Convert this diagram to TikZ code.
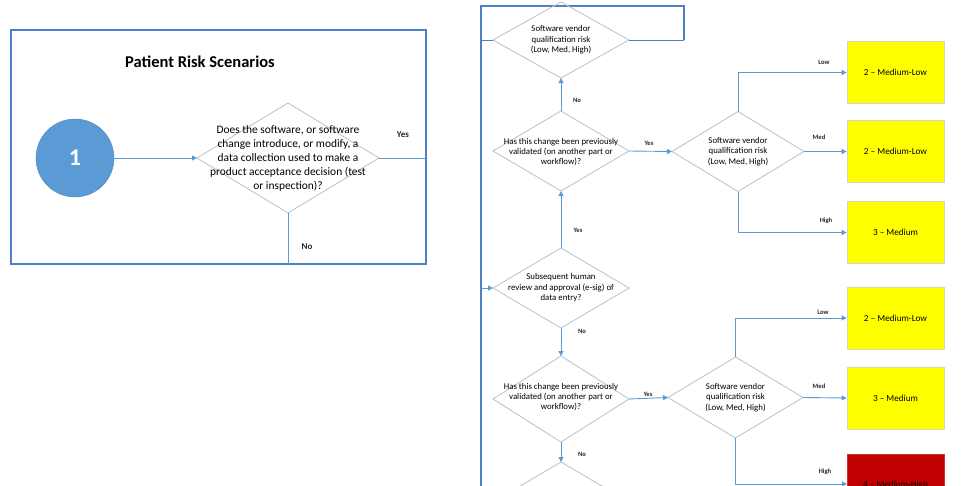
\documentclass[tikz,border=0pt]{standalone}
\usepackage{fontspec}
\setmainfont{Carlito}
\usetikzlibrary{shapes.geometric,arrows.meta}
\definecolor{frameblue}{HTML}{4F7FC8}
\definecolor{lineblue}{HTML}{5B9BD5}
\definecolor{dgray}{HTML}{C4C4C4}
\definecolor{ybox}{HTML}{FFFF00}
\definecolor{ybord}{HTML}{D8D8B0}
\definecolor{rbox}{HTML}{C00000}
\tikzset{
  frame/.style={draw=frameblue, line width=1.5pt},
  dia/.style={shape=diamond, draw=dgray, line width=0.9pt, inner sep=0pt, outer sep=0pt},
  smalldia/.style={dia, minimum width=136pt, minimum height=80pt},
  dtext/.style={align=center, font=\fontsize{8.8}{10.4}\selectfont, inner sep=0pt},
  conn/.style={draw=lineblue, line width=0.9pt},
  arr/.style={conn, -{Triangle[width=5pt,length=5pt]}},
  lbl/.style={font=\fontsize{6.6}{7}\selectfont\bfseries, inner sep=0pt, text=black!85},
  resbox/.style={draw=ybord, fill=ybox, line width=0.8pt, minimum width=97pt, minimum height=62pt, inner sep=0pt, font=\fontsize{9.2}{10}\selectfont},
}
\begin{document}
\begin{tikzpicture}[x=1pt,y=-1pt]
\useasboundingbox (0,0) rectangle (967,485);
\clip (0,0) rectangle (967,485);
% ---------- left panel ----------
\node[frame, draw, minimum width=415pt, minimum height=234pt, inner sep=0pt] (panel) at (218.5,147) {};
\node[font=\fontsize{16.5}{18}\selectfont\bfseries] (title) at (200,62) {Patient Risk Scenarios};
\node[circle, fill=lineblue, draw=lineblue!85!black, line width=0.4pt, minimum size=78pt, inner sep=0pt, text=white, font=\fontsize{24}{26}\selectfont\bfseries] (c1) at (75,158) {1};
\node[dia, minimum width=182pt, minimum height=110pt] (q1) at (288,158) {};
\node[align=center, font=\fontsize{11.4}{14}\selectfont, inner sep=0pt] (q1t) at (288,158.5) {Does the software, or software\\change introduce, or modify, a\\data collection used to make a\\product acceptance decision (test\\or inspection)?};
\coordinate (q1yes) at (426,158);
\coordinate (q1no) at (288,264);
\draw[arr] (c1.east) -- (q1.west);
\draw[conn] (q1.east) -- (q1yes);
\draw[conn] (q1.south) -- (q1no);
\node[font=\fontsize{9}{10}\selectfont\bfseries, text=black!85, inner sep=0pt] (l1yes) at (403,135) {Yes};
\node[font=\fontsize{9}{10}\selectfont\bfseries, text=black!85, inner sep=0pt] (l1no) at (307,247) {No};
% ---------- right panel frame ----------
\coordinate (fTL) at (481,6);
\coordinate (fTR) at (684,6);
\coordinate (fMR) at (684,40);
\coordinate (fML) at (481,40);
\coordinate (fBL) at (481,490);
\draw[frame] (fBL) -- (fTL) -- (fTR) -- (fMR);
% ---------- right panel diamonds ----------
\node[smalldia, minimum height=76pt] (v0) at (561,40) {};
\node[dtext] (v0t) at (561,40) {Software vendor\\qualification risk\\(Low, Med, High)};
\draw[conn, draw=frameblue] (fML) -- (v0.west);
\draw[conn, draw=frameblue] (v0.east) -- (fMR);

\node[smalldia] (q2) at (561,151) {};
\node[dtext] (q2t) at (561,152) {Has this change been previously\\validated (on another part or\\workflow)?};

\node[smalldia] (q3) at (561,288) {};
\node[dtext] (q3t) at (561,288) {Subsequent human\\review and approval (e-sig) of\\data entry?};

\node[smalldia, minimum height=86pt] (q4) at (561,399) {};
\node[dtext] (q4t) at (561,397) {Has this change been previously\\validated (on another part or\\workflow)?};

\node[smalldia] (q5) at (561,502) {};

\node[smalldia, minimum width=132pt] (v1) at (738,151.5) {};
\node[dtext] (v1t) at (738,151.5) {Software vendor\\qualification risk\\(Low, Med, High)};

\node[smalldia, minimum width=135pt, minimum height=81pt] (v2) at (735.5,397.5) {};
\node[dtext] (v2t) at (735.5,397.5) {Software vendor\\qualification risk\\(Low, Med, High)};

% ---------- result boxes ----------
\node[resbox] (b1) at (895.5,72.5) {2 -- Medium-Low};
\node[resbox] (b2) at (895.5,151.5) {2 -- Medium-Low};
\node[resbox] (b3) at (895.5,232.5) {3 -- Medium};
\node[resbox] (b4) at (895.5,318) {2 -- Medium-Low};
\node[resbox] (b5) at (895.5,398) {3 -- Medium};
\node[resbox, fill=rbox, draw=rbox!80!white] (b6) at (895.5,485) {4 -- Medium-High};

% ---------- connectors ----------
\coordinate (entry) at (481,288);
\draw[arr] (entry) -- (q3.west);
\draw[arr] (q2.north) -- (v0.south);
\draw[arr] (q3.north) -- (q2.south);
\draw[arr] (q3.south) -- (q4.north);
\draw[arr] (q4.south) -- (q5.north);
\draw[arr] (q2.east) -- (v1.west);
\draw[arr] (q4.east) -- (v2.west);
\draw[arr] (v1.north) |- (b1.west);
\draw[arr] (v1.east) -- (b2.west);
\draw[arr] (v1.south) |- (b3.west);
\draw[arr] (v2.north) |- (b4.west);
\draw[arr] (v2.east) -- (b5.west);
\coordinate (hi2) at (847,484);
\draw[arr] (v2.south) |- (hi2);

% ---------- labels ----------
\node[lbl] (n1) at (577,100) {No};
\node[lbl] (y1) at (649,143) {Yes};
\node[lbl] (y2) at (578,230) {Yes};
\node[lbl] (n2) at (582,331) {No};
\node[lbl] (y3) at (648,394) {Yes};
\node[lbl] (n3) at (582,454) {No};
\node[lbl] (lo1) at (824,62) {Low};
\node[lbl] (me1) at (819,137) {Med};
\node[lbl] (hi1) at (826,221) {High};
\node[lbl] (lo2) at (823,312) {Low};
\node[lbl] (me2) at (819,386) {Med};
\node[lbl] (hi3) at (825,472) {High};
\end{tikzpicture}
\end{document}
